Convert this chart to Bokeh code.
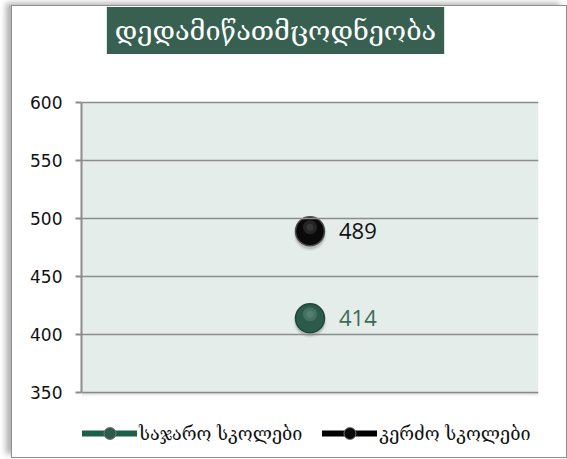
from bokeh.plotting import figure
from bokeh.models import (Range1d, FactorRange, Label, Legend, LegendItem, FixedTicker,
                          ColumnDataSource, BoxAnnotation)
from bokeh.embed import file_html
from bokeh.resources import INLINE
from bokeh.core.properties import value

# ---- data ----
title_text = "დედამიწათმცოდნეობა"
categories = ["დედამიწათმცოდნეობა"]
series_names = ["საჯარო სკოლები", "კერძო სკოლები"]
series_values = [414, 489]
y_ticks = [350, 400, 450, 500, 550, 600]

# ---- styles / layout ----
ball_colors = ["#2d5b4b", "#0a0a0a"]
rim_colors = ["#23463a", "#4a4a4a"]
hi_colors = ["#6f9c8b", "#5a5a5a"]
label_colors = ["#3d6a5a", "#111111"]
legend_line_colors = ["#1d5e4a", "#000000"]
GEO_FONT = "DejaVu Serif"

FIG_W, FIG_H = 554, 451
PX_PER_UNIT = 1.16          # vertical scale of the value axis
AREA_TOP_PX = 96            # space above the plotting area (title lives here)
AREA_BOTTOM_PX = 65         # space below the plotting area (legend lives here)
y_lo = y_ticks[0] - AREA_BOTTOM_PX / PX_PER_UNIT
y_hi = y_ticks[-1] + AREA_TOP_PX / PX_PER_UNIT

p = figure(width=FIG_W, height=FIG_H,
           x_range=FactorRange(*categories), y_range=Range1d(y_lo, y_hi),
           output_backend="svg", toolbar_location=None,
           min_border_left=69, min_border_right=28, min_border_top=0, min_border_bottom=0)
p.margin = (6, 1, 2, 12)
p.background_fill_color = "white"
p.border_fill_alpha = 0
p.styles = {"background-color": "white",
            "box-shadow": "0 0 0 1px #8f8f8f, -6px -3px 6px #b0b0b0"}
p.outline_line_color = None

# plotting area background + soft shadow under it
for k, a in enumerate([0.35, 0.22, 0.12, 0.05]):
    p.add_layout(BoxAnnotation(bottom=y_ticks[0] - (k + 1) / PX_PER_UNIT, top=y_ticks[0] - k / PX_PER_UNIT,
                               fill_color="#808080", fill_alpha=a, line_color=None))
p.add_layout(BoxAnnotation(bottom=y_ticks[0], top=y_ticks[-1], fill_color="#e4ede9",
                           fill_alpha=1, line_color=None, level="underlay"))

p.xaxis.visible = False
p.xgrid.visible = False
p.ygrid.level = "glyph"
p.ygrid.grid_line_color = "#8c8c8c"
p.ygrid.grid_line_width = 1.5
p.yaxis.ticker = FixedTicker(ticks=y_ticks)
p.yaxis.bounds = (y_ticks[0], y_ticks[-1])
p.yaxis.axis_line_color = "#8c8c8c"
p.yaxis.axis_line_width = 2
p.yaxis.major_tick_line_color = "#8c8c8c"
p.yaxis.major_tick_line_width = 2
p.yaxis.major_tick_in = 0
p.yaxis.major_tick_out = 6
p.yaxis.minor_tick_line_color = None
p.yaxis.major_label_standoff = 13
p.yaxis.major_label_text_font = "DejaVu Sans"
p.yaxis.major_label_text_font_size = "17px"
p.yaxis.major_label_text_color = "#111111"

legend_items = []
for i, (name, v) in enumerate(zip(series_names, series_values)):
    src = ColumnDataSource(dict(x=[categories[0]], y=[v], t=[str(v)],
                                ys=[v - 3 / PX_PER_UNIT], yh=[v + 4 / PX_PER_UNIT]))
    # soft drop shadow (slightly below the ball)
    p.scatter("x", "ys", source=src, size=33, fill_color="#777777", fill_alpha=0.12, line_color=None)
    p.scatter("x", "ys", source=src, size=30, fill_color="#666666", fill_alpha=0.25, line_color=None)
    # ball with a soft highlight
    p.scatter("x", "y", source=src, size=29, fill_color=ball_colors[i], line_color=rim_colors[i], line_width=1.5)
    p.scatter("x", "yh", source=src, size=14, fill_color=hi_colors[i], fill_alpha=0.35, line_color=None)
    p.scatter("x", "yh", source=src, size=7, fill_color=hi_colors[i], fill_alpha=0.35, line_color=None)
    p.text("x", "y", text="t", source=src, x_offset=29, text_baseline="middle", text_align="left",
           text_font=value("Open Sans"), text_font_size="22px", text_color=label_colors[i])
    # legend glyphs (a single missing point: nothing drawn in the plot)
    dummy = ColumnDataSource(dict(x=[categories[0]], y=[float("nan")]))
    lr = p.line("x", "y", source=dummy, line_color=legend_line_colors[i], line_width=6, line_cap="round")
    sr = p.scatter("x", "y", source=dummy, size=12, fill_color=ball_colors[i], line_color="#777777", line_width=1)
    legend_items.append(LegendItem(label=name, renderers=[lr, sr]))

legend = Legend(items=legend_items, orientation="horizontal", location=(1, 9),
                glyph_width=55, glyph_height=30, label_height=30, label_standoff=2, spacing=20,
                padding=0, margin=0, border_line_color=None, background_fill_alpha=0,
                label_text_font=GEO_FONT, label_text_font_size="18px", label_text_color="#111111")
p.add_layout(legend, "center")

title = Label(x=194, y=FIG_H - 24, x_units="screen", y_units="screen",
              text=title_text, text_align="center", text_baseline="middle",
              text_font=GEO_FONT, text_font_size="27px", text_color="white",
              background_fill_color="#376050", padding=8)
p.add_layout(title)

open("out.html", "w").write(file_html(p, INLINE))
